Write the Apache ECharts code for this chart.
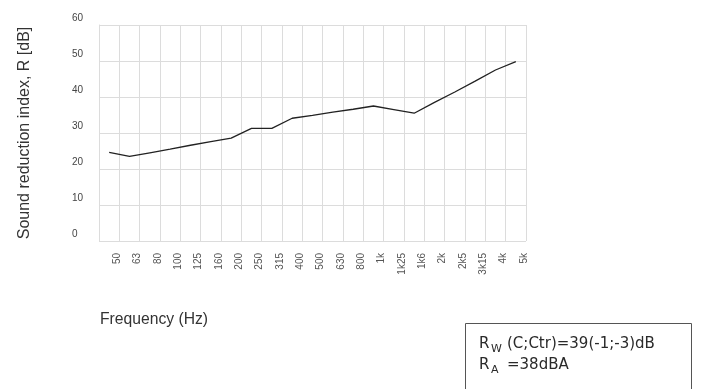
<!DOCTYPE html>
<html>
<head>
<meta charset="utf-8">
<script src="https://cdn.jsdelivr.net/npm/echarts@6/dist/echarts.min.js"></script>
<style>
  html, body { margin: 0; padding: 0; background: #fff; }
  #chart { width: 715px; height: 389px; }
</style>
</head>
<body>
<div id="chart"></div>
<script>
// third-octave bands
const bands = ['50', '63', '80', '100', '125', '160', '200', '250', '315', '400', '500',
  '630', '800', '1k', '1k25', '1k6', '2k', '2k5', '3k15', '4k', '5k']
// sound reduction index R [dB]
const rValues = [24.6, 23.5, 24.5, 25.5, 26.6, 27.6, 28.6, 31.3, 31.3, 34.1, 34.9,
  35.8, 36.6, 37.5, 36.5, 35.5, 38.5, 41.4, 44.4, 47.5, 49.8]
const yTicks = { min: 0, max: 60, interval: 10 }

const myChart = echarts.init(document.getElementById('chart'))

const gridColor = '#dcdcdc'
const boxFont = '"DejaVu Sans", "Liberation Sans", sans-serif'

const option = {
  animation: false,
  grid: {
    left: 99,
    right: 189,
    top: 25,
    bottom: 148
  },
  xAxis: {
    type: 'category',
    data: bands,
    boundaryGap: true,
    axisLine: { show: false },
    axisTick: { show: false },
    axisLabel: {
      interval: 0,
      rotate: 90,
      margin: 12,
      verticalAlign: 'top',
      padding: [3, 0, 0, 0],
      fontFamily: 'Liberation Sans, Arial, sans-serif',
      fontSize: 10,
      color: '#555'
    },
    splitLine: {
      show: true,
      interval: 0,
      lineStyle: { color: gridColor, width: 1 }
    }
  },
  yAxis: {
    type: 'value',
    min: yTicks.min,
    max: yTicks.max,
    interval: yTicks.interval,
    axisLine: { show: true, lineStyle: { color: gridColor } },
    axisTick: { show: false },
    axisLabel: {
      align: 'left',
      margin: 27,
      verticalAlign: 'bottom',
      padding: [0, 0, 2, 0],
      fontFamily: 'Liberation Sans, Arial, sans-serif',
      fontSize: 10,
      color: '#444'
    },
    splitLine: { lineStyle: { color: gridColor, width: 1 } },
    name: 'Sound reduction index, R [dB]',
    nameLocation: 'middle',
    nameRotate: 90,
    nameGap: 66,
    nameTextStyle: {
      fontFamily: 'Liberation Sans, Arial, sans-serif',
      fontSize: 16,
      color: '#333'
    }
  },
  series: [
    {
      type: 'line',
      data: rValues,
      symbol: 'none',
      lineStyle: { color: '#222', width: 1.3 }
    }
  ],
  graphic: [
    {
      type: 'text',
      left: 100,
      top: 312,
      style: {
        text: 'Frequency (Hz)',
        font: '15.7px "Liberation Sans", Arial, sans-serif',
        fill: '#333'
      }
    },
    {
      type: 'rect',
      shape: { x: 465.5, y: 323.5, width: 226, height: 80 },
      style: { fill: 'none', stroke: '#555', lineWidth: 1 }
    },
    // line 1: Rw (C;Ctr)=39(-1;-3)dB
    {
      type: 'text', x: 479, y: 337,
      style: { text: 'R', font: '15px ' + boxFont, fill: '#2a2a2a' }
    },
    {
      type: 'text', x: 491, y: 344,
      style: { text: 'W', font: '11px ' + boxFont, fill: '#2a2a2a' }
    },
    {
      type: 'text', x: 507, y: 337,
      style: { text: '(C;Ctr)=39(-1;-3)dB', font: '15px ' + boxFont, fill: '#2a2a2a' }
    },
    // line 2: RA =38dBA
    {
      type: 'text', x: 479, y: 358,
      style: { text: 'R', font: '15px ' + boxFont, fill: '#2a2a2a' }
    },
    {
      type: 'text', x: 491, y: 365,
      style: { text: 'A', font: '11px ' + boxFont, fill: '#2a2a2a' }
    },
    {
      type: 'text', x: 507, y: 358,
      style: { text: '=38dBA', font: '15px ' + boxFont, fill: '#2a2a2a' }
    }
  ]
}

option && myChart.setOption(option)
</script>
</body>
</html>
